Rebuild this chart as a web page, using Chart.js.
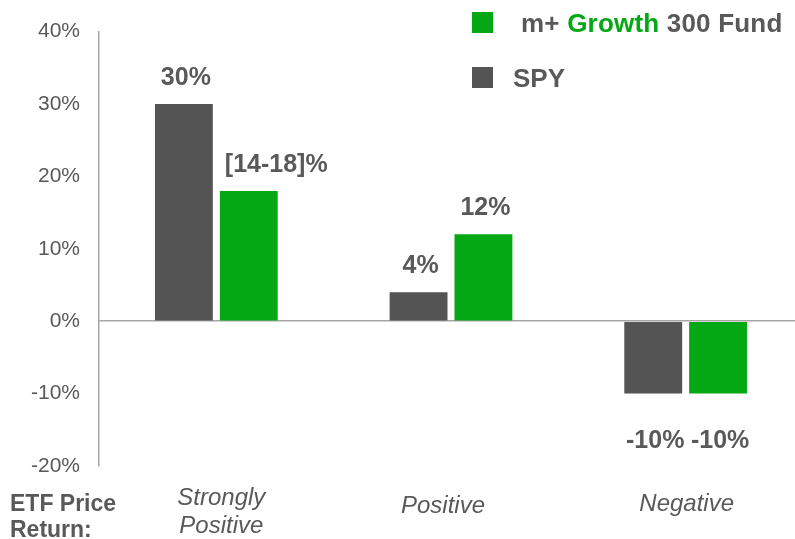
<!DOCTYPE html>
<html>
<head>
<meta charset="utf-8">
<script src="https://cdn.jsdelivr.net/npm/chart.js@4.4.0/dist/chart.umd.min.js"></script>
<style>
  html, body { margin: 0; padding: 0; background: #fff; }
  #wrap { position: relative; width: 795px; height: 539px; overflow: hidden; font-family: "Liberation Sans", Arial, sans-serif; }
  #chart { position: absolute; left: 0; top: 0; }
  .leg { position: absolute; font-weight: bold; font-size: 26px; color: #595959; white-space: nowrap; line-height: 26px; }
  .sw { position: absolute; width: 21px; height: 21px; }
  #etf { position: absolute; left: 10px; top: 490px; font-weight: bold; font-size: 23px; line-height: 26px; color: #595959; }
</style>
</head>
<body>
<div id="wrap">
  <canvas id="chart"></canvas>
  <div class="sw" style="left:472px; top:12px; background:#04a814;"></div>
  <div class="leg" style="left:521px; top:10px; letter-spacing:0.2px;">m+ <span style="color:#04a814">Growth</span> 300 Fund</div>
  <div class="sw" style="left:472px; top:67px; background:#545454;"></div>
  <div class="leg" style="left:513px; top:65px;">SPY</div>
  <div id="etf">ETF Price<br>Return:</div>
</div>
<script>
const categories = [['Strongly', 'Positive'], ['Positive'], ['Negative']];
const spyValues = [30, 4, -10];
const fundValues = [18, 12, -10];
const spyLabels = ['30%', '4%', '-10%'];
const fundLabels = ['[14-18]%', '12%', '-10%'];
const yTicks = [40, 30, 20, 10, 0, -10, -20];

const gray = '#545454';
const green = '#04a814';
const textColor = '#595959';

const canvas = document.getElementById('chart');
canvas.width = 803;
canvas.height = 539;
canvas.style.width = '803px';
canvas.style.height = '539px';

const barLabels = {
  id: 'barLabels',
  afterDatasetsDraw(chart) {
    const ctx = chart.ctx;
    ctx.save();
    ctx.font = 'bold 25px "Liberation Sans", Arial, sans-serif';
    ctx.fillStyle = textColor;
    ctx.textBaseline = 'middle';
    const sets = [spyLabels, fundLabels];
    chart.data.datasets.forEach((ds, i) => {
      chart.getDatasetMeta(i).data.forEach((bar, j) => {
        const v = ds.data[j];
        const txt = sets[i][j];
        const y = v >= 0 ? bar.y - 26 : bar.y + 48;
        // long labels start just right of the bar's left edge
        if (ctx.measureText(txt).width > bar.width + 20) {
          ctx.textAlign = 'left';
          ctx.fillText(txt, bar.x - bar.width / 2 + 5, y);
        } else {
          ctx.textAlign = 'center';
          ctx.fillText(txt, bar.x + 2, y);
        }
      });
    });
    // category labels
    ctx.textAlign = 'center';
    ctx.font = 'italic 24px "Liberation Sans", Arial, sans-serif';
    const xs = chart.scales.x;
    categories.forEach((lines, j) => {
      const x = xs.getPixelForValue(j);
      if (lines.length === 2) {
        ctx.fillText(lines[0], x + 5, 498);
        ctx.fillText(lines[1], x + 5, 526);
      } else if (j === 1) {
        ctx.fillText(lines[0], x - 8, 506);
      } else {
        ctx.fillText(lines[0], x + 1, 504);
      }
    });
    ctx.restore();
  }
};

new Chart(canvas, {
  type: 'bar',
  data: {
    labels: categories.map(c => c.join(' ')),
    datasets: [
      { label: 'SPY', data: spyValues, backgroundColor: gray, categoryPercentage: 0.553, barPercentage: 0.892 },
      { label: 'm+ Growth 300 Fund', data: fundValues, backgroundColor: green, categoryPercentage: 0.553, barPercentage: 0.892 }
    ]
  },
  options: {
    responsive: false,
    animation: false,
    layout: { padding: { top: 30, left: 0, right: 0, bottom: 0 } },
    plugins: { legend: { display: false }, tooltip: { enabled: false } },
    scales: {
      x: {
        ticks: { display: false },
        grid: { display: false },
        border: { display: false },
        afterFit(scale) { scale.height = 73; }
      },
      y: {
        min: -20,
        max: 40,
        afterBuildTicks(scale) { scale.ticks = yTicks.map(v => ({ value: v })); },
        ticks: {
          callback: v => v + '%',
          color: textColor,
          padding: 19,
          font: { family: '"Liberation Sans", Arial, sans-serif', size: 21 }
        },
        grid: {
          drawTicks: false,
          lineWidth: 1.5,
          color: ctx => ctx.tick && ctx.tick.value === 0 ? '#a6a6a6' : 'rgba(0,0,0,0)'
        },
        border: { color: '#a6a6a6', width: 1.5 },
        afterFit(scale) { scale.width = 99; }
      }
    }
  },
  plugins: [barLabels]
});
</script>
</body>
</html>
